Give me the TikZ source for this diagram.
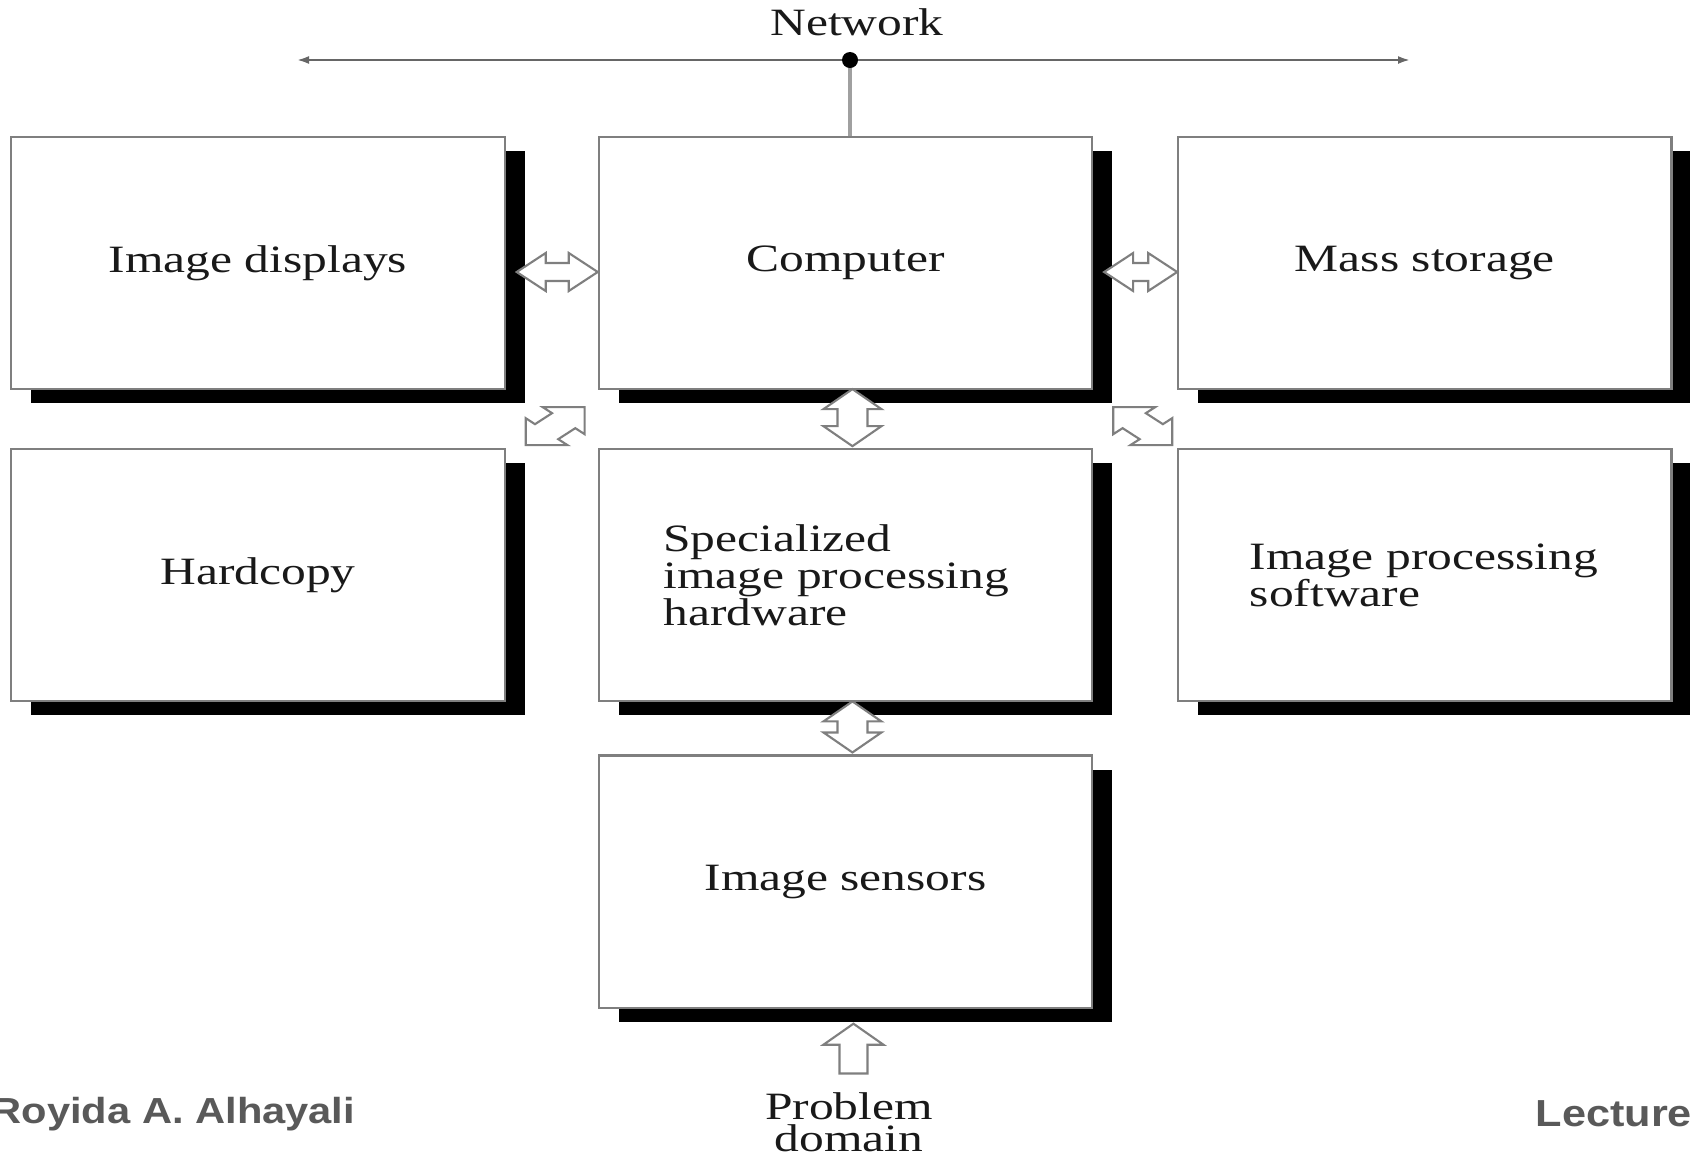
\documentclass[tikz,border=0pt]{standalone}
\usepackage{fontspec}
\setmainfont{Liberation Serif}[FakeStretch=1.28]
\newfontfamily\footfont{Liberation Sans}[FakeStretch=1.15]
\usepackage{tikz}
\usetikzlibrary{positioning,
                arrows.meta,                % arrow tips
                calc,                       % coordinate offsets
                shadows}                    % box shadows

\definecolor{boxgray}{HTML}{7F7F7F}
\definecolor{linegray}{HTML}{666666}
\definecolor{tapgray}{HTML}{A0A0A0}
\definecolor{footgray}{HTML}{595959}

\tikzset{
  box/.style={draw=boxgray, fill=white, line width=0.6pt,
              minimum width=4.93cm, minimum height=2.52cm, inner sep=0pt,
              font=\fontsize{11}{10.5}\selectfont, text=black!90, align=left,
              drop shadow={shadow xshift=0.2cm, shadow yshift=-0.14cm,
                           fill=black, opacity=1}},
  blockarrow/.style={draw=boxgray, fill=white, line width=0.6pt},
  lbl/.style={font=\fontsize{11}{10.5}\selectfont, text=black!90, inner sep=0pt},
  foot/.style={font=\footfont\bfseries\fontsize{10.7}{12}\selectfont,
               text=footgray, inner sep=0pt, anchor=west}
}

% hollow double arrows between two anchors
\newcommand\hdblarrow[2]{%
  \coordinate (ha) at ($(#1)+(11,9)$);
  \coordinate (hb) at ($(#2)+(0,9)$);
  \draw[blockarrow] (ha) -- ++(29,-19) -- ++(0,10) -- ($(hb)+(-29,-9)$) -- ++(0,-10)
    -- (hb) -- ++(-29,19) -- ++(0,-10) -- ($(ha)+(29,9)$) -- ++(0,10) -- cycle;}
\newcommand\vdblarrow[2]{%
  \coordinate (va) at ($(#1)+(7,-1)$);
  \coordinate (vb) at ($(#2)+(7,-2)$);
  \draw[blockarrow] (va) -- ++(29,20) -- ++(-14,0) -- ($(vb)+(15,-20)$) -- ++(14,0)
    -- (vb) -- ++(-29,-20) -- ++(14,0) -- ($(va)+(-15,20)$) -- ++(-14,0) -- cycle;}
\newcommand\diagdblarrow[2]{%
  \begin{scope}[shift={(#1)}, xscale=#2, yscale=-1]
    \draw[blockarrow] (0,0) -- (0,27) -- (6,21) -- (17,32) -- (11,38) -- (38,38)
      -- (38,11) -- (32,17) -- (21,6) -- (27,0) -- cycle;
  \end{scope}}

\begin{document}
\begin{tikzpicture}[x=0.01cm, y=-0.01cm]
    \useasboundingbox (0,0) rectangle (1690,1154);
    \clip (0,0) rectangle (1690,1154);

    % boxes
    \node[box] (disp) at (258,263) {Image displays};
    \node[box, right=0.92cm of disp] (comp) {Computer};
    \node[box, right=0.84cm of comp] (mass) {Mass storage};
    \node[box, below=0.58cm of disp] (hcopy) {Hardcopy};
    \node[box, below=0.58cm of comp, text width=3.64cm] (spec) {Specialized\\image processing\\hardware};
    \node[box, below=0.58cm of mass, text width=3.5cm] (ipsw) {Image processing\\software};
    \node[box, below=0.52cm of spec] (sens) {Image sensors};

    % network bus
    \node[lbl] (net) at (857,22) {Network};
    \coordinate (netL) at (297,60);
    \coordinate (netR) at (1410,60);
    \coordinate (tap) at (850,60);
    \draw[linegray, line width=0.6pt,
          {Latex[length=0.12cm, width=0.08cm]}-{Latex[length=0.12cm, width=0.08cm]}]
          (netL) -- (netR);
    \draw[tapgray, line width=0.9pt] (tap) -- (tap |- comp.north);
    \fill[black] (tap) circle[radius=0.08cm];

    % links between boxes
    \hdblarrow{disp.east}{comp.west}
    \hdblarrow{comp.east}{mass.west}
    \vdblarrow{comp.south}{spec.north}
    \vdblarrow{spec.south}{sens.north}
    \coordinate (dl) at ($(hcopy.north east)+(20,-3)$);
    \coordinate (dr) at ($(ipsw.north west)+(-5,-3)$);
    \diagdblarrow{dl}{1.55}
    \diagdblarrow{dr}{-1.55}

    % input from the problem domain
    \node[lbl, align=center, font=\fontsize{11}{9.2}\selectfont] (prob) at (849,1122) {Problem\\domain};
    \coordinate (upT) at ($(sens.south)+(8,15)$);
    \coordinate (upB) at (upT |- prob.north);
    \draw[blockarrow] (upT) -- ++(30,21) -- ++(-16,0) -- ($(upB)+(14,-18)$)
        -- ($(upB)+(-14,-18)$) -- ($(upT)+(-14,21)$) -- ++(-16,0) -- cycle;

    % footer
    \node[foot, font=\footfont\bfseries\fontsize{10.3}{12}\selectfont] (author) at (-9,1114) {Royida A. Alhayali};
    \node[foot] (lect) at (1535,1114) {Lecture};
\end{tikzpicture}
\end{document}
